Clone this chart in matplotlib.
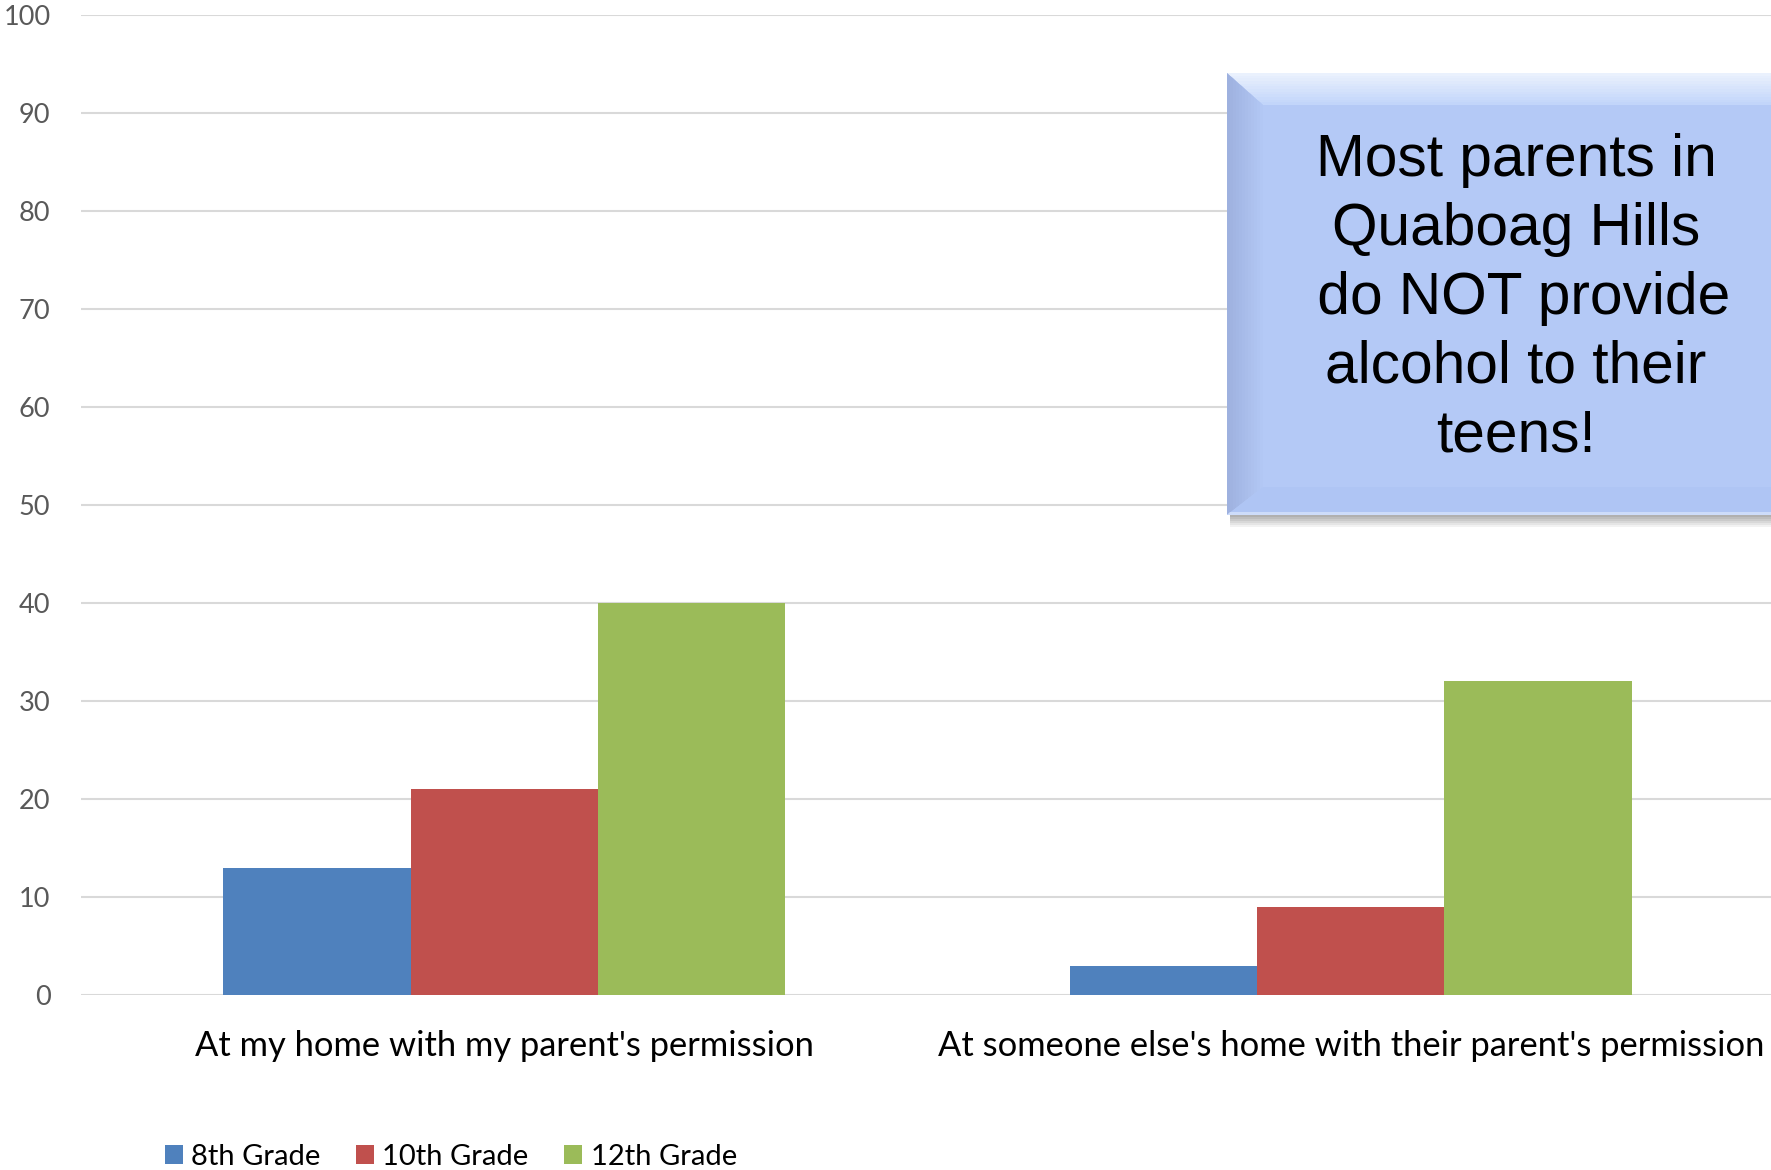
import numpy as np
import matplotlib.pyplot as plt
from matplotlib.patches import Polygon, Rectangle
from matplotlib.colors import to_rgb

# chart data
categories = ["At my home with my parent's permission",
              "At someone else's home with their parent's permission"]
grades = ['8th Grade', '10th Grade', '12th Grade']
grade8 = [13, 3]
grade10 = [21, 9]
grade12 = [40, 32]
colors = ['#4f81bd', '#c0504d', '#9bbb59']
yticks = list(range(0, 101, 10))
callout = "Most parents in\nQuaboag Hills\n do NOT provide\nalcohol to their\nteens!"

W, H = 1771, 1170
fig = plt.figure(figsize=(W / 100, H / 100), dpi=100)

def fx(px):
    return px / W

def fy(py):
    return 1 - py / H

ax = fig.add_axes([fx(81), fy(995), fx(1774) - fx(81), fy(15) - fy(995)])

x = np.arange(len(categories))
w = 0.2215
for i, vals in enumerate([grade8, grade10, grade12]):
    ax.bar(x + (i - 1) * w, vals, w, color=colors[i], label=grades[i], zorder=3)

ax.set_xlim(-0.5, 1.5)
ax.set_ylim(0, 100)
ax.set_yticks(yticks)
ax.set_xticks(x)
ax.set_xticklabels(categories, fontsize=24.8, family='Lato', color='black')
ax.tick_params(axis='y', length=0, pad=22, labelsize=19.5, labelcolor='#595959')
ax.tick_params(axis='x', length=0, pad=25)
for lab in ax.get_yticklabels():
    lab.set_family('Lato')
ax.yaxis.grid(True, color='#d9d9d9', linewidth=1.5, zorder=0)
for s in ax.spines.values():
    s.set_visible(False)

fig.legend(loc='center left', bbox_to_anchor=(fx(165), fy(1157)), ncol=3,
           frameon=False, prop={'family': 'Lato', 'size': 21},
           handlelength=0.6, handleheight=0.6, handletextpad=0.3,
           columnspacing=1.22, borderaxespad=0, borderpad=0)

# callout box with soft bevel
L, T, B, R = 1227, 73, 515, 1800
bt, bl, bb = 32, 36, 28
fill = '#b4c9f6'

def poly(pts, c, z):
    fig.patches.append(Polygon([(fx(px), fy(py)) for px, py in pts],
                               transform=fig.transFigure, color=c, zorder=z, lw=0))

def mix(c1, c2, t):
    a, b = np.array(to_rgb(c1)), np.array(to_rgb(c2))
    return tuple(a + (b - a) * t)

# shadow
for k in range(6):
    fig.patches.append(Rectangle((fx(L + 3), fy(B + 2 + k * 2)), fx(R) - fx(L + 3), fy(B) - fy(B + 2),
                                 transform=fig.transFigure, color=mix('#b0b0b0', '#ffffff', k / 6),
                                 zorder=1, lw=0))
poly([(L, T), (R, T), (R, B), (L, B)], fill, 2)
n = 12
# top bevel
for k in range(n):
    y0 = T + bt * k / n
    y1 = T + bt * (k + 1) / n
    poly([(L + bl * k / n, y0), (R, y0), (R, y1), (L + bl * (k + 1) / n, y1)],
         mix('#eaf1fd', '#c2d5fa', k / (n - 1)), 3)
# left bevel
for k in range(n):
    x0 = L + bl * k / n
    x1 = L + bl * (k + 1) / n
    poly([(x0, T + bt * k / n), (x1, T + bt * (k + 1) / n),
          (x1, B - bb * (k + 1) / n), (x0, B - bb * k / n)],
         mix('#9eb1df', '#b2c7f4', k / (n - 1)), 3)
# bottom bevel
poly([(L, B), (L + bl, B - bb), (R, B - bb), (R, B)], '#afc5f4', 3)
poly([(L, B), (L + 3, B - 3), (R, B - 3), (R, B)], '#cddcfa', 3)

fig.text(fx(1516), fy(298), callout, ha='center', va='center', fontsize=42.2,
         family='Liberation Sans', color='black', linespacing=1.32, zorder=5)

fig.savefig('out.png', dpi=100)
